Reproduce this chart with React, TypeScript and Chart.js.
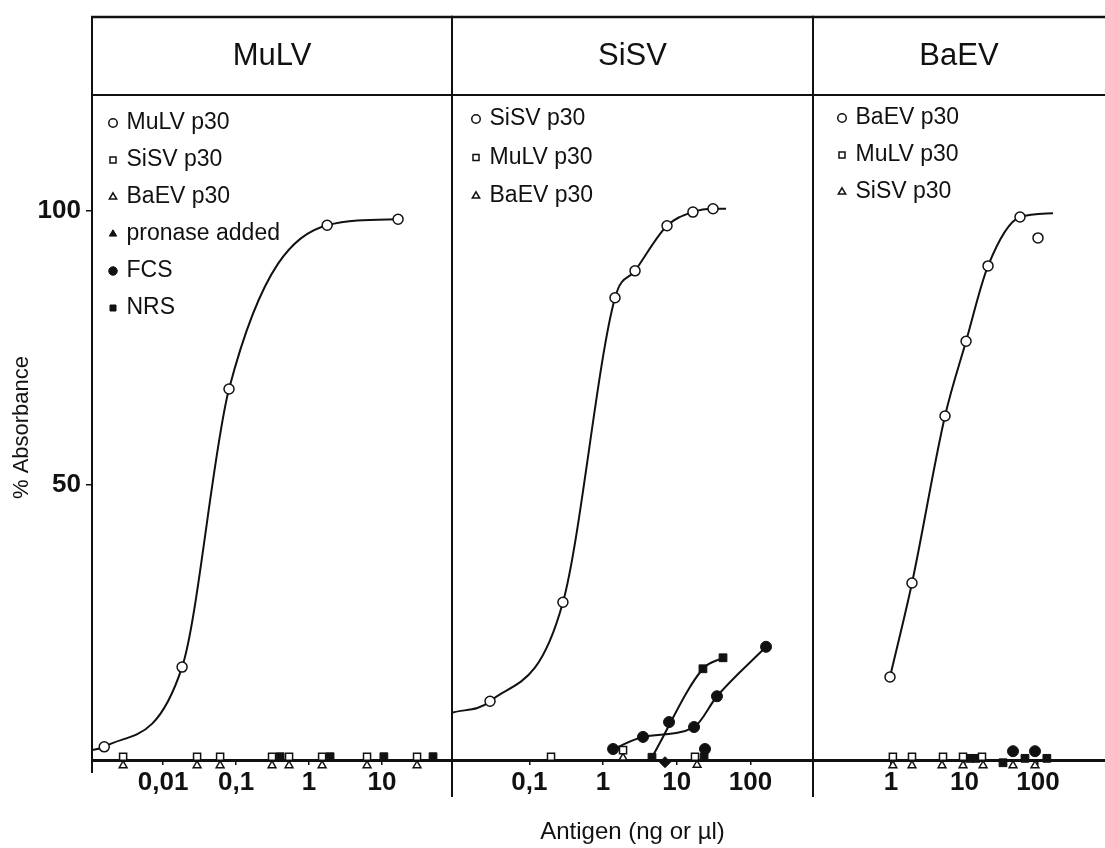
import React, { useEffect, useRef } from 'react';
import { Chart, registerables } from 'chart.js';

Chart.register(...registerables);

const FONT = '"Liberation Sans", Arial, Helvetica, sans-serif';
const INK = '#111111';

// ---------- shared y axis ----------
const Y_MIN = 0;
const Y_MAX = 121;
const Y_TICKS = [50, 100];
const Y_TITLE = '% Absorbance';
const X_TITLE = 'Antigen (ng or µl)';

// ---------- MuLV panel ----------
const MULV_RANGE = [0.00106, 91];
const MULV_TICKS = [0.01, 0.1, 1, 10];
const MULV_TICK_LABELS = ['0,01', '0,1', '1', '10'];
const MULV_P30_X = [0.00106, 0.00156, 0.0182, 0.08, 1.77, 16.6];
const MULV_P30_Y = [1.8, 2.4, 16.9, 67.5, 97.3, 98.4];
const MULV_P30_MARK = [0, 1, 1, 1, 1, 1];
const MULV_SISV_X = [0.00283, 0.0292, 0.0604, 0.311, 0.532, 1.51, 6.23, 30.2];
const MULV_SISV_Y = [0.6, 0.6, 0.6, 0.6, 0.6, 0.6, 0.6, 0.6];
const MULV_BAEV_X = [0.00283, 0.0292, 0.0604, 0.311, 0.532, 1.51, 6.23, 30.2];
const MULV_BAEV_Y = [-1, -1, -1, -1, -1, -1, -1, -1];
const MULV_PRONASE_X: number[] = [];
const MULV_PRONASE_Y: number[] = [];
const MULV_FCS_X: number[] = [];
const MULV_FCS_Y: number[] = [];
const MULV_NRS_X = [0.401, 1.94, 10.6, 50];
const MULV_NRS_Y = [0.6, 0.6, 0.6, 0.6];

// ---------- SiSV panel ----------
const SISV_RANGE = [0.00893, 707];
const SISV_TICKS = [0.1, 1, 10, 100];
const SISV_TICK_LABELS = ['0,1', '1', '10', '100'];
const SISV_P30_X = [0.00893, 0.0293, 0.286, 1.455, 2.72, 7.39, 16.6, 31.1, 46.7];
const SISV_P30_Y = [8.6, 10.7, 28.7, 84.1, 89.0, 97.2, 99.7, 100.3, 100.3];
const SISV_P30_MARK = [0, 1, 1, 1, 1, 1, 1, 1, 0];
const SISV_MULV_X = [0.197, 1.87, 17.7];
const SISV_MULV_Y = [0.6, 1.8, 0.6];
const SISV_BAEV_X = [0.197, 1.87, 18.9];
const SISV_BAEV_Y = [-1.1, 0.4, -0.9];
const SISV_PRONASE_X = [25.8];
const SISV_PRONASE_Y = [-1.1];
const SISV_FCS_X = [1.37, 3.49, 17.2, 35.2, 163];
const SISV_FCS_Y = [2.0, 4.2, 6.0, 11.6, 20.6];
const SISV_FCS_EXTRA_X = [7.87, 6.94, 24.2];
const SISV_FCS_EXTRA_Y = [6.9, -0.4, 2.0];
const SISV_FCS_EXTRA_STYLE = ['circle', 'rectRot', 'circle'];
const SISV_NRS_X = [4.62, 22.7, 42.5];
const SISV_NRS_Y = [0.5, 16.6, 18.6];
const SISV_NRS_EXTRA_X = [23.5];
const SISV_NRS_EXTRA_Y = [0.5];

// ---------- BaEV panel ----------
const BAEV_RANGE = [0.0868, 816];
const BAEV_TICKS = [1, 10, 100];
const BAEV_TICK_LABELS = ['1', '10', '100'];
const BAEV_P30_X = [0.969, 1.93, 5.43, 10.5, 20.9, 56.9, 100];
const BAEV_P30_Y = [15.1, 32.2, 62.6, 76.2, 89.9, 98.8, 95.0];
const BAEV_FIT_COUNT = 6; // points of BaEV p30 the drawn curve passes through
const BAEV_FIT_END_X = 160;
const BAEV_FIT_END_Y = 99.5;
const BAEV_MULV_X = [1.06, 1.93, 5.1, 9.55, 17.3];
const BAEV_MULV_Y = [0.6, 0.6, 0.6, 0.6, 0.6];
const BAEV_SISV_X = [1.06, 1.93, 4.94, 9.55, 17.9, 45.7, 91];
const BAEV_SISV_Y = [-1, -1, -1, -1, -1, -1, -1];
const BAEV_FCS_X = [45.7, 91];
const BAEV_FCS_Y = [1.6, 1.6];
const BAEV_NRS_X = [11.9, 14.3, 33.4, 66.5, 132];
const BAEV_NRS_Y = [0.3, 0.3, -0.5, 0.3, 0.3];
const BAEV_PRONASE_X = [66.5, 132];
const BAEV_PRONASE_Y = [-1.3, -1.3];

// ---------- helpers ----------
type Pt = { x: number; y: number };
const pts = (xs: number[], ys: number[]): Pt[] => xs.map((x, i) => ({ x, y: ys[i] }));

const OPEN_CIRCLE = { pointStyle: 'circle', pointRadius: 5, pointBackgroundColor: '#fff', pointBorderColor: INK, pointBorderWidth: 1.5 };
const OPEN_SQUARE = { pointStyle: 'rect', pointRadius: 5, pointBackgroundColor: '#fff', pointBorderColor: INK, pointBorderWidth: 1.5 };
const OPEN_TRI = { pointStyle: 'triangle', pointRadius: 4.5, pointBackgroundColor: '#fff', pointBorderColor: INK, pointBorderWidth: 1.5 };
const FILL_TRI = { pointStyle: 'triangle', pointRadius: 4.5, pointBackgroundColor: INK, pointBorderColor: INK, pointBorderWidth: 1 };
const FILL_CIRCLE = { pointStyle: 'circle', pointRadius: 5.5, pointBackgroundColor: INK, pointBorderColor: INK, pointBorderWidth: 1 };
const FILL_SQUARE = { pointStyle: 'rect', pointRadius: 5.5, pointBackgroundColor: INK, pointBorderColor: INK, pointBorderWidth: 1 };
const CURVE = { showLine: true, borderColor: INK, borderWidth: 2, cubicInterpolationMode: 'monotone', fill: false };

function ds(label: string, data: Pt[], style: any, extra: any = {}, inLegend = true) {
  return { label, data, clip: false, showLine: false, inLegend, ...style, ...extra };
}

const framePlugin = {
  id: 'frame',
  afterDraw(chart: any, _args: any, o: any) {
    const { ctx, chartArea: ca } = chart;
    const yTop = ca.top - o.headerH;
    const line = (x1: number, y1: number, x2: number, y2: number) => {
      ctx.beginPath();
      ctx.moveTo(x1, y1);
      ctx.lineTo(x2, y2);
      ctx.stroke();
    };
    ctx.save();
    ctx.strokeStyle = INK;
    ctx.lineWidth = 2.5;
    line(ca.left - 1, yTop, ca.right + 1, yTop);
    ctx.lineWidth = 2;
    line(ca.left, ca.top, ca.right, ca.top);
    if (o.leftExt != null) line(ca.left, yTop - 1, ca.left, ca.bottom + o.leftExt);
    if (o.rightExt != null) line(ca.right, yTop - 1, ca.right, ca.bottom + o.rightExt);
    ctx.restore();
  },
};

const legendPlacer = {
  id: 'legendPlacer',
  afterLayout(chart: any, _args: any, o: any) {
    const lg = chart.legend;
    if (!lg) return;
    const ca = chart.chartArea;
    const w = lg.width;
    const h = lg.height;
    lg.left = ca.left + o.dx;
    lg.right = lg.left + w;
    lg.top = ca.top + o.dy;
    lg.bottom = lg.top + h;
  },
};

type Spec = {
  title: string;
  range: number[];
  ticks: number[];
  tickLabels: string[];
  datasets: any[];
  padL: number;
  padR: number;
  showY: boolean;
  showXTitle: boolean;
  frame: any;
  legend: { dx: number; dy: number; pad: number };
};

function makeConfig(p: Spec): any {
  return {
    type: 'scatter',
    data: { datasets: p.datasets },
    plugins: [framePlugin, legendPlacer],
    options: {
      responsive: false,
      animation: false,
      devicePixelRatio: 1,
      events: [],
      layout: { autoPadding: false, padding: { top: 17, left: p.padL, right: p.padR, bottom: 0 } },
      plugins: {
        tooltip: { enabled: false },
        title: {
          display: true,
          text: p.title,
          fullSize: false,
          color: INK,
          font: { family: FONT, size: 31, weight: 'normal' },
          padding: { top: 20.4, bottom: 20.4 },
        },
        legend: {
          display: true,
          position: 'chartArea',
          align: 'start',
          labels: {
            usePointStyle: true,
            boxWidth: 4,
            boxHeight: 6,
            padding: p.legend.pad,
            color: INK,
            font: { family: FONT, size: 23 },
            filter: (item: any, data: any) => !!data.datasets[item.datasetIndex].inLegend,
            sort: (a: any, b: any) => a.datasetIndex - b.datasetIndex,
          },
        },
        frame: p.frame,
        legendPlacer: { dx: p.legend.dx, dy: p.legend.dy },
      },
      scales: {
        x: {
          type: 'logarithmic',
          min: p.range[0],
          max: p.range[1],
          afterBuildTicks: (s: any) => {
            s.ticks = p.ticks.map((v) => ({ value: v }));
          },
          afterFit: (s: any) => {
            s.height = 88;
            s.paddingLeft = 0;
            s.paddingRight = 0;
          },
          ticks: {
            autoSkip: false,
            maxRotation: 0,
            minRotation: 0,
            padding: 2,
            color: INK,
            font: { family: FONT, size: 26, weight: 'bold' },
            callback: (_v: any, i: number) => p.tickLabels[i],
          },
          grid: { drawOnChartArea: false, drawTicks: true, tickLength: 5, color: INK, lineWidth: 1.5 },
          border: { display: true, color: INK, width: 3 },
          title: {
            display: p.showXTitle,
            text: X_TITLE,
            color: INK,
            font: { family: FONT, size: 24 },
            padding: { top: 0, bottom: 1 },
          },
        },
        y: {
          type: 'linear',
          min: Y_MIN,
          max: Y_MAX,
          display: p.showY,
          afterBuildTicks: (s: any) => {
            s.ticks = Y_TICKS.map((v) => ({ value: v }));
          },
          afterFit: (s: any) => {
            s.width = p.showY ? 92 : 0;
            s.paddingTop = 0;
            s.paddingBottom = 0;
          },
          ticks: { padding: 5, color: INK, font: { family: FONT, size: 26, weight: 'bold' } },
          grid: { drawOnChartArea: false, drawTicks: true, tickLength: 6, color: INK, lineWidth: 1.5 },
          border: { display: true, color: INK, width: 2 },
          title: {
            display: true,
            text: Y_TITLE,
            color: INK,
            font: { family: FONT, size: 22 },
            padding: { top: 9, bottom: 0 },
          },
        },
      },
    },
  };
}

const mulvSpec: Spec = {
  title: 'MuLV',
  range: MULV_RANGE,
  ticks: MULV_TICKS,
  tickLabels: MULV_TICK_LABELS,
  padL: 0,
  padR: 8,
  showY: true,
  showXTitle: false,
  frame: { headerH: 78, leftExt: 13, rightExt: 37 },
  legend: { dx: 5, dy: 2.5, pad: 14 },
  datasets: [
    ds('MuLV p30', pts(MULV_P30_X, MULV_P30_Y), OPEN_CIRCLE, { ...CURVE, pointRadius: MULV_P30_MARK.map((m) => (m ? 5 : 0)) }),
    ds('SiSV p30', pts(MULV_SISV_X, MULV_SISV_Y), OPEN_SQUARE),
    ds('BaEV p30', pts(MULV_BAEV_X, MULV_BAEV_Y), OPEN_TRI),
    ds('pronase added', pts(MULV_PRONASE_X, MULV_PRONASE_Y), FILL_TRI),
    ds('FCS', pts(MULV_FCS_X, MULV_FCS_Y), FILL_CIRCLE),
    ds('NRS', pts(MULV_NRS_X, MULV_NRS_Y), FILL_SQUARE),
  ],
};

const sisvSpec: Spec = {
  title: 'SiSV',
  range: SISV_RANGE,
  ticks: SISV_TICKS,
  tickLabels: SISV_TICK_LABELS,
  padL: 8,
  padR: 8,
  showY: false,
  showXTitle: true,
  frame: { headerH: 78, leftExt: 37, rightExt: 37 },
  legend: { dx: 6.5, dy: -3, pad: 15.5 },
  datasets: [
    ds('SiSV p30', pts(SISV_P30_X, SISV_P30_Y), OPEN_CIRCLE, { ...CURVE, pointRadius: SISV_P30_MARK.map((m) => (m ? 5 : 0)) }),
    ds('MuLV p30', pts(SISV_MULV_X, SISV_MULV_Y), OPEN_SQUARE),
    ds('BaEV p30', pts(SISV_BAEV_X, SISV_BAEV_Y), OPEN_TRI),
    ds('pronase added', pts(SISV_PRONASE_X, SISV_PRONASE_Y), FILL_TRI, {}, false),
    ds('FCS', pts(SISV_FCS_X, SISV_FCS_Y), FILL_CIRCLE, CURVE, false),
    ds('FCS ', pts(SISV_FCS_EXTRA_X, SISV_FCS_EXTRA_Y), FILL_CIRCLE, { pointStyle: SISV_FCS_EXTRA_STYLE }, false),
    ds('NRS', pts(SISV_NRS_X, SISV_NRS_Y), FILL_SQUARE, CURVE, false),
    ds('NRS ', pts(SISV_NRS_EXTRA_X, SISV_NRS_EXTRA_Y), FILL_SQUARE, {}, false),
  ],
};

const baevFit = pts(BAEV_P30_X, BAEV_P30_Y).slice(0, BAEV_FIT_COUNT).concat([{ x: BAEV_FIT_END_X, y: BAEV_FIT_END_Y }]);

const baevSpec: Spec = {
  title: 'BaEV',
  range: BAEV_RANGE,
  ticks: BAEV_TICKS,
  tickLabels: BAEV_TICK_LABELS,
  padL: 8,
  padR: 0,
  showY: false,
  showXTitle: false,
  frame: { headerH: 78, leftExt: 37 },
  legend: { dx: 13, dy: -2.5, pad: 14 },
  datasets: [
    ds('BaEV p30', pts(BAEV_P30_X, BAEV_P30_Y), OPEN_CIRCLE),
    ds('MuLV p30', pts(BAEV_MULV_X, BAEV_MULV_Y), OPEN_SQUARE),
    ds('SiSV p30', pts(BAEV_SISV_X, BAEV_SISV_Y), OPEN_TRI),
    ds('FCS', pts(BAEV_FCS_X, BAEV_FCS_Y), FILL_CIRCLE, {}, false),
    ds('NRS', pts(BAEV_NRS_X, BAEV_NRS_Y), FILL_SQUARE, {}, false),
    ds('pronase added', pts(BAEV_PRONASE_X, BAEV_PRONASE_Y), FILL_TRI, {}, false),
    ds('BaEV p30 fit', baevFit, OPEN_CIRCLE, { ...CURVE, pointRadius: 0 }, false),
  ],
};

function Panel({ left, width, spec }: { left: number; width: number; spec: Spec }) {
  const ref = useRef<HTMLCanvasElement>(null);
  useEffect(() => {
    const chart = new Chart(ref.current as HTMLCanvasElement, makeConfig(spec));
    return () => chart.destroy();
  }, [spec]);
  return (
    <canvas
      ref={ref}
      width={width}
      height={848}
      style={{ position: 'absolute', left, top: 0, width, height: 848 }}
    />
  );
}

export default function App() {
  return (
    <div style={{ position: 'absolute', left: 0, top: 0, width: 1105, height: 848, background: '#fff', overflow: 'hidden' }}>
      <Panel left={0} width={460} spec={mulvSpec} />
      <Panel left={444} width={377} spec={sisvSpec} />
      <Panel left={805} width={300} spec={baevSpec} />
    </div>
  );
}
